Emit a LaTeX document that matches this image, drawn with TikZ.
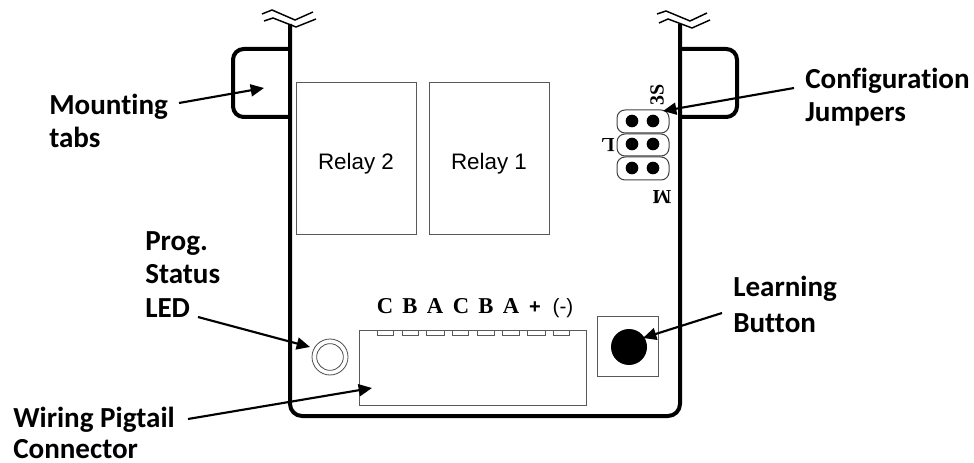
\documentclass[tikz,border=0pt]{standalone}
\usepackage{fontspec}
\setmainfont[Ligatures=NoCommon]{Carlito}
\newfontfamily\arialf{Liberation Sans}
\newfontfamily\timesf{Liberation Serif}
\usetikzlibrary{arrows.meta}
\tikzset{
  x=0.75pt,y=-0.75pt,
  board/.style={line width=3pt,line join=round},
  thinbox/.style={draw=black!65,line width=0.75pt,inner sep=0pt},
  brk/.style={line width=1.1pt},
  callout/.style={font=\fontsize{21.8}{25}\selectfont\bfseries,align=left,inner sep=0pt,anchor=base west},
  relaytext/.style={font=\arialf\fontsize{16.8}{18}\selectfont,inner sep=0pt,anchor=base},
  pinlabel/.style={font=\timesf\fontsize{17}{18}\selectfont\bfseries,inner sep=0pt,anchor=base},
  jumperlabel/.style={font=\timesf\fontsize{15}{16}\selectfont\bfseries,inner sep=0pt},
  lead/.style={line width=1.6pt,-{Triangle[length=10pt,width=9pt]}},
  pin/.style={draw=black!65,line width=0.6pt,fill=white},
  jumper/.style={draw=black!75,line width=0.75pt,rounded corners=6pt},
  dot/.style={circle,fill=black,inner sep=0pt,minimum size=9.5pt}
}
\begin{document}
\begin{tikzpicture}
\useasboundingbox (0,0) rectangle (974,463);
% board
\draw[board,rounded corners=9pt] (290,24) -- (290,416) -- (680,416) -- (680,24);
\draw[board,rounded corners=8pt] (290,49) -- (233,49) -- (233,117) -- (290,117);
\draw[board,rounded corners=8pt] (680,49) -- (737,49) -- (737,117) -- (680,117);
% breaks
\draw[brk] (262,14) -- (272,10) -- (295,20) -- (313,12);
\draw[brk] (264,21) -- (273,18) -- (296,27) -- (316,19);
\draw[brk] (657,14) -- (666,11) -- (690,21) -- (707,13);
\draw[brk] (659,23) -- (668,19) -- (692,28) -- (710,20);
% relays
\node[thinbox,minimum width=90pt,minimum height=114pt] (r2) at (356,159) {};
\node[thinbox,minimum width=90pt,minimum height=114pt] (r1) at (489,159) {};
\node[relaytext] (r2t) at (356,170) {Relay 2};
\node[relaytext] (r1t) at (489,170) {Relay 1};
% jumpers
\draw[jumper] (617,110) rectangle (669,133);
\draw[jumper] (617,134) rectangle (669,156);
\draw[jumper] (617,157) rectangle (669,180);
\foreach \yy in {121,144,168} {\foreach \xx in {632,653} {\node[dot] at (\xx,\yy) {};}}
\node[jumperlabel,rotate=90] (js) at (657,95) {3S};
\node[jumperlabel,rotate=180] (jl) at (608,145) {L};
\node[jumperlabel,rotate=180] (jm) at (662,197) {M};
% connector
\node[draw=black!65,line width=0.75pt,minimum width=170.25pt,minimum height=56.25pt,inner sep=0pt] (conn) at (472.5,367.5) {};
\foreach \xa/\xb in {377/393,402/418,426/444,452/468,477/494,502/519,527/545,553/569} {\draw[pin] (\xa,330) rectangle (\xb,335);}
\foreach \xx/\tt in {385/C,410/B,435/A,461/C,486/B,511/A} {\node[pinlabel] at (\xx,313) {\tt};}
\node[font=\arialf\fontsize{15}{16}\selectfont\bfseries,inner sep=0pt,anchor=base] at (535,313) {+};
\node[font=\arialf\fontsize{15.5}{16}\selectfont,inner sep=0pt,anchor=base] at (563,313) {(-)};
% led
\node[circle,draw=black!70,line width=0.6pt,minimum size=27pt,inner sep=0pt] (led) at (330,357) {};
\node[circle,draw=black!70,line width=0.6pt,minimum size=20pt,inner sep=0pt] at (330,357) {};
% button
\node[thinbox,minimum width=45.75pt,minimum height=45pt] (btnbox) at (627.5,346) {};
\node[circle,fill=black,minimum size=27pt,inner sep=0pt] (btn) at (629,347) {};
% labels
\node[callout] (t1) at (49,148) {Mounting\\tabs};
\node[callout] (t2) at (805,122) {Configuration\\Jumpers};
\node[callout] (t3) at (733,332) {Learning\\[2pt]Button};
\node[callout] (t4) at (145,317) {Prog.\\Status\\LED};
\node[callout] (t5) at (13,458) {Wiring Pigtail\\[-2pt]Connector};
% leaders
\coordinate (a1) at (179,103); \coordinate (b1) at (264,88);
\coordinate (a2) at (794,88); \coordinate (b2) at (663,111);
\coordinate (a3) at (722,313); \coordinate (b3) at (643,338);
\coordinate (a4) at (198,317); \coordinate (b4) at (310,347);
\coordinate (a5) at (188,419); \coordinate (b5) at (372,388);
\draw[lead] (a1) -- (b1);
\draw[lead] (a2) -- (b2);
\draw[lead] (a3) -- (b3);
\draw[lead] (a4) -- (b4);
\draw[lead] (a5) -- (b5);
\end{tikzpicture}
\end{document}
